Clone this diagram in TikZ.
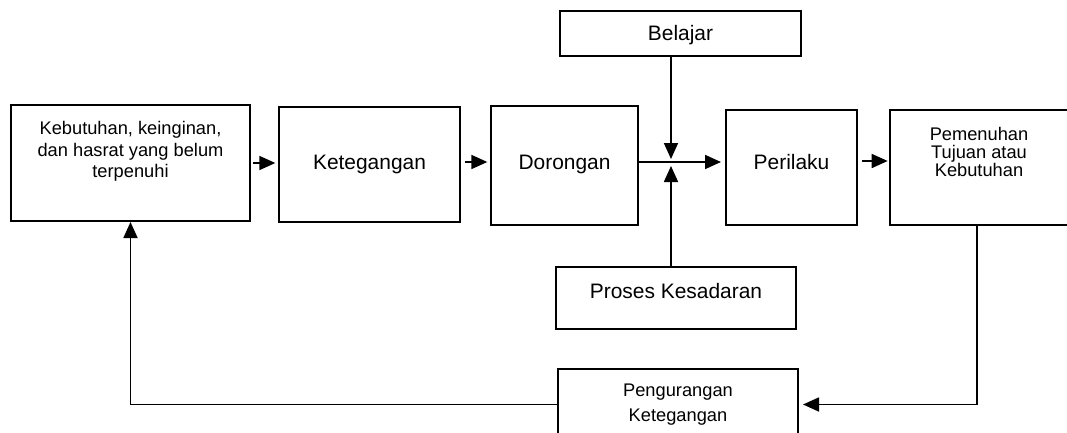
\documentclass[tikz,border=0pt]{standalone}
\usepackage{fontspec}
\setmainfont{Liberation Sans}
\usetikzlibrary{arrows.meta}

\begin{document}
\begin{tikzpicture}[x=0.75pt, y=-0.75pt,
    box/.style={draw, line width=1.5pt, align=center, inner sep=0pt},
    big/.style={font=\fontsize{15.7}{18}\selectfont, text height=11.2pt, text depth=#1},
    small/.style={font=\fontsize{13.7}{#1}\selectfont},
    arr/.style={-{Triangle[length=12pt, width=10.5pt]}, line width=1.3pt}]
    \useasboundingbox (0,0) rectangle (1067,432);
    % Main chain
    \node[box, small=16.25, text depth=20pt, minimum width=179.25pt, minimum height=87pt] (kb) at (130.5,163) {Kebutuhan, keinginan,\\dan hasrat yang belum\\terpenuhi};
    \node[box, big=3.8pt, minimum width=135.75pt, minimum height=86.25pt] (kt) at (369.5,164.5) {Ketegangan};
    \node[box, big=5.2pt, minimum width=110.25pt, minimum height=89.25pt] (dr) at (564.5,165.5) {Dorongan};
    \node[box, big=8.2pt, minimum width=98.25pt, minimum height=86.25pt] (pr) at (791.5,167.5) {Perilaku};
    \node[box, small=13.75, text depth=23.4pt, minimum width=133.5pt, minimum height=86.25pt] (pm) at (979,167.5) {Pemenuhan\\Tujuan atau\\Kebutuhan};
    % Influences
    \node[box, big=0pt, minimum width=180.75pt, minimum height=33.75pt] (bl) at (680.5,33.5) {Belajar};
    \node[box, big=10.5pt, minimum width=180pt, minimum height=46.5pt] (ps) at (676,298) {Proses Kesadaran};
    \node[box, small=18.75, minimum width=180pt, minimum height=53.25pt] (pg) at (678,404.5) {Pengurangan\\Ketegangan};
    \coordinate (jtop) at (671,159);
    \coordinate (jbot) at (671,166);
    % Arrows
    \draw[arr, shorten <=1.5pt, shorten >=2pt] (kb.east) -- (kb.east -| kt.west);
    \draw[arr, shorten <=3pt, shorten >=2pt] (kt.east |- 0,162) -- (dr.west |- 0,162);
    \draw[arr, shorten >=3pt] (dr.east |- 0,162) -- (pr.west |- 0,162);
    \draw[arr, shorten <=3pt, shorten >=1pt] (pr.east |- 0,161) -- (pm.west |- 0,161);
    \draw[arr] (bl.south -| jtop) -- (jtop);
    \draw[arr] (ps.north -| jbot) -- (jbot);
    % Feedback loop
    \draw[arr, shorten >=3pt] (pm.south -| 977,0) |- (pg.east);
    \draw[arr] (pg.west) -| (kb.south);
\end{tikzpicture}
\end{document}
